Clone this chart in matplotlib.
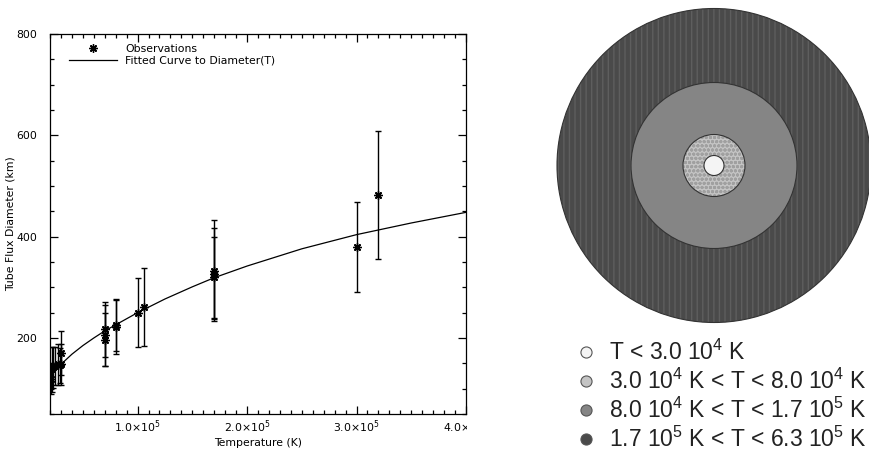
import matplotlib.pyplot as plt
from matplotlib.patches import Circle
from matplotlib.transforms import Bbox

plt.rcParams['mathtext.fontset'] = 'custom'
plt.rcParams['mathtext.rm'] = 'Liberation Sans'

#observations (temperature in K, diameter in km, error in km)
obs_temp = [2.05e4, 2.2e4, 2.3e4, 2.5e4, 2.7e4, 2.9e4, 3.0e4, 3.05e4,
            7.0e4, 7.0e4, 7.0e4, 8.0e4, 8.0e4, 1.0e5, 1.06e5,
            1.7e5, 1.7e5, 1.7e5, 3.0e5, 3.2e5]
obs_diam = [120, 138, 142, 145, 148, 146, 170, 148,
            217, 205, 197, 222, 225, 250, 262,
            333, 327, 320, 380, 482]
obs_err = [30, 45, 40, 38, 40, 35, 44, 40,
           55, 60, 52, 54, 50, 68, 77,
           100, 90, 80, 89, 126]

#fitted curve
fit_temp = [3.1e4, 4e4, 5e4, 6e4, 7e4, 8e4, 1e5, 1.25e5, 1.5e5, 1.7e5,
            2e5, 2.5e5, 3e5, 3.5e5, 4e5]
fit_diam = [150, 168, 185, 200, 214, 226, 250, 277, 301, 319,
            342, 376, 404, 427, 448]

xticks = [1e5, 2e5, 3e5, 4e5]
xticklabels = [r'1.0$\times$10$^{5}$', r'2.0$\times$10$^{5}$',
               r'3.0$\times$10$^{5}$', r'4.0$\times$10$^{5}$']
yticks = [200, 400, 600, 800]

#temperature zones (inner to outer)
zone_labels = [r'T < 3.0 10$^{4}$ K',
               r'3.0 10$^{4}$ K < T < 8.0 10$^{4}$ K',
               r'8.0 10$^{4}$ K < T < 1.7 10$^{5}$ K',
               r'1.7 10$^{5}$ K < T < 6.3 10$^{5}$ K']
zone_colors = ['#f4f4f4', '#c4c4c4', '#858585', '#4a4a4a']
zone_hatch = ['', 'oooo', '', '|||']
zone_radius = [10, 31, 83, 157]

W, H = 869, 453
fig = plt.figure(figsize=(W/100, H/100), dpi=100)

#left panel
ax = fig.add_axes([50/W, 39/H, 416/W, 380/H])
ax.errorbar(obs_temp, obs_diam, yerr=obs_err, fmt='none', ecolor='black',
            elinewidth=1, capsize=2, capthick=1)
ax.plot(obs_temp, obs_diam, linestyle='none', marker=(8, 2, 0),
        markersize=6, mew=1.0, color='black', label='Observations')
ax.plot(fit_temp, fit_diam, color='black', lw=0.9,
        label='Fitted Curve to Diameter(T)')
ax.set_xlim(2e4, 4e5)
ax.set_ylim(50, 800)
ax.set_xticks(xticks)
ax.set_xticklabels(xticklabels, math_fontfamily='dejavusans')
ax.set_xticks([t * 1e4 for t in range(2, 41)], minor=True)
ax.set_yticks(yticks)
ax.set_yticks(range(50, 801, 50), minor=True)
ax.tick_params(which='both', direction='in', top=True, right=True,
               labelsize=7.8, width=0.9)
ax.tick_params(which='major', length=6)
ax.tick_params(which='minor', length=3)
ax.tick_params(axis='y', pad=9)
ax.tick_params(axis='x', pad=3)
for s in ax.spines.values():
    s.set_linewidth(0.9)
ax.set_xlabel('Temperature (K)', fontsize=7.8, labelpad=2)
ax.set_ylabel('Tube Flux Diameter (km)', fontsize=7.8, labelpad=1)
ax.legend(loc='upper left', bbox_to_anchor=(0.035, 0.985), frameon=False,
          fontsize=7.8, handlelength=4.4, handletextpad=0.8,
          labelspacing=0.15, borderaxespad=0)

#the left picture is cut off just right of the axes
clip = Bbox.from_extents(0, 0, 467, H)
for lab in ax.get_xticklabels():
    lab.set_clip_box(clip)
    lab.set_clip_on(True)

#right panel
ax2 = fig.add_axes([540/W, 0, 329/W, 1])
ax2.set_xlim(0, 329)
ax2.set_ylim(H, 0)
ax2.set_aspect('equal')
ax2.axis('off')
cx, cy = 174, 165.5
for i in range(len(zone_radius) - 1, -1, -1):
    ax2.add_patch(Circle((cx, cy), zone_radius[i], facecolor=zone_colors[i],
                         edgecolor='#5e5e5e' if i == 3 else '#a0a0a0',
                         hatch=zone_hatch[i], lw=0))
    ax2.add_patch(Circle((cx, cy), zone_radius[i], facecolor='none',
                         edgecolor='#333333', lw=0.8))

#zone legend
row_y = [352, 381, 410, 439]
for i in range(len(zone_labels)):
    ax2.plot(46, row_y[i], marker='o', markersize=8, color=zone_colors[i],
             mec='#555555', mew=0.8)
    ax2.text(69, row_y[i], zone_labels[i], fontsize=16.5, color='#222222',
             family='Liberation Sans', math_fontfamily='custom',
             va='center', ha='left')

fig.savefig('out.png', dpi=100)
